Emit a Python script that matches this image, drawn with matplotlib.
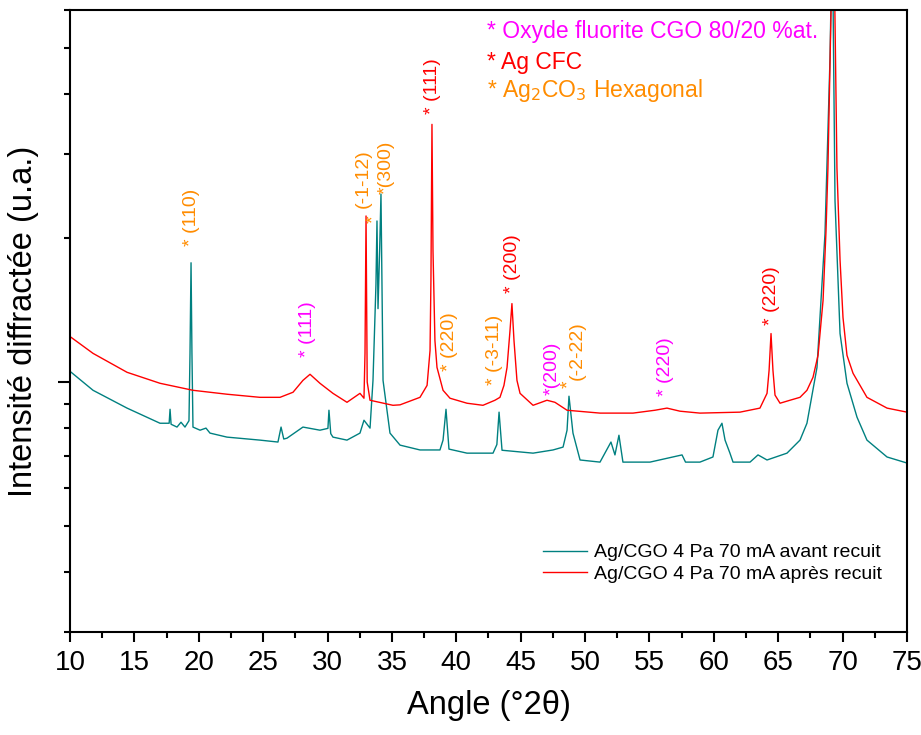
import numpy as np
import matplotlib
matplotlib.use("Agg")
import matplotlib.pyplot as plt
from matplotlib.ticker import MultipleLocator, LogLocator, NullFormatter

plt.rcParams['font.family'] = ['Liberation Sans', 'DejaVu Sans']

# donnees (angle en degres 2theta, intensite en u.a.)
ang_apres = [10.00, 11.79, 14.43, 16.99, 19.55, 22.19, 24.75, 26.31, 27.32, 28.09,
             28.64, 29.41, 30.42, 31.51, 32.52, 32.83, 32.91, 32.99, 33.08, 33.30,
             35.08, 35.63, 37.18, 37.73, 37.96, 38.03, 38.11, 38.19, 38.34, 38.50,
             38.97, 39.51, 40.83, 42.07, 43.00, 43.39, 43.70, 43.94, 44.17, 44.32,
             44.48, 44.71, 44.95, 45.96, 47.04, 47.66, 48.60, 51.16, 53.72, 55.43,
             56.36, 57.37, 58.92, 62.03, 63.58, 64.13, 64.29, 64.44, 64.59, 64.75,
             65.14, 65.91, 66.69, 67.23, 67.70, 68.09, 68.48, 68.71, 68.86, 69.10,
             69.25, 69.40, 69.56, 69.80, 70.03, 70.34, 70.81, 71.89, 73.45, 75.00]
int_apres = [1245, 1148, 1048, 994, 961, 943, 929, 929, 952, 1008,
             1038, 994, 947, 907, 947, 925, 1150, 2225, 1000, 916,
             894, 896, 929, 984, 1164, 1628, 3459, 1880, 1221, 1073,
             961, 925, 903, 894, 916, 929, 984, 1073, 1281, 1459,
             1221, 1008, 947, 894, 916, 907, 873, 861, 861, 873,
             882, 869, 861, 865, 882, 947, 1058, 1263, 1058, 939,
             903, 916, 929, 961, 1023, 1137, 1480, 2070, 2802, 5950,
             9000, 5950, 2802, 1800, 1364, 1137, 1043, 929, 882, 865]

ang_avant = [10.00, 11.79, 14.43, 16.99, 17.70, 17.77, 17.85, 18.31, 18.62, 18.93,
             19.24, 19.32, 19.40, 19.47, 19.55, 20.10, 20.56, 20.87, 22.19, 24.75,
             26.15, 26.39, 26.60, 26.85, 28.09, 28.64, 29.41, 30.03, 30.11, 30.25,
             30.42, 31.51, 32.52, 32.83, 33.30, 33.53, 33.76, 33.84, 33.92, 34.05,
             34.15, 34.31, 34.85, 35.63, 37.18, 38.73, 38.97, 39.20, 39.43, 40.83,
             42.85, 43.15, 43.32, 43.55, 45.96, 47.51, 48.29, 48.60, 48.75, 49.06,
             49.61, 51.16, 52.01, 52.32, 52.63, 52.94, 55.04, 57.53, 57.80, 58.92,
             59.93, 60.32, 60.63, 60.87, 61.25, 61.49, 62.81, 63.43, 64.13, 65.68,
             66.69, 67.23, 68.01, 68.63, 69.02, 69.20, 69.41, 69.80, 70.34, 71.12,
             71.89, 73.45, 75.00]
int_avant = [1053, 961, 882, 820, 820, 877, 816, 805, 824, 805,
             830, 1150, 1776, 1150, 805, 793, 801, 782, 767, 756,
             749, 805, 760, 763, 805, 800, 793, 800, 873, 780,
             767, 756, 782, 832, 801, 1008, 1600, 2172, 1424, 1900,
             2473, 1008, 782, 738, 721, 721, 756, 877, 724, 710,
             710, 740, 865, 720, 710, 721, 731, 793, 934, 782,
             687, 680, 749, 704, 774, 680, 680, 704, 680, 680,
             697, 793, 820, 756, 710, 680, 680, 704, 687, 710,
             756, 820, 1073, 2040, 4748, 9000, 2391, 1263, 994, 844,
             756, 697, 677]

# etiquettes des pics : angle, intensite du bas du texte, texte, couleur
pic_ang = [19.40, 28.48, 32.75, 33.61, 34.54, 38.19, 39.51, 43.00, 44.40, 47.43,
           48.75, 49.37, 56.21, 64.44]
pic_int = [1927, 1126, 2312, 2151, 2473, 3629, 1053, 984, 1538, 938,
           970, 1008, 934, 1313]
pic_txt = ['* (110)', '* (111)', '(-1-12)', '*', '*(300)', '* (111)', '* (220)',
           '* (-3-11)', '* (200)', '*(200)', '*', '(-2-22)', '* (220)', '* (220)']
orange = '#ff8c00'
pic_col = [orange, '#ff00ff', orange, orange, orange, 'red', orange,
           orange, 'red', '#ff00ff', orange, orange, '#ff00ff', 'red']

fig = plt.figure(figsize=(9.21, 7.35), dpi=100)
ax = fig.add_axes([0.0760, 0.1401, 0.9088, 0.8463])

ax.plot(ang_avant, int_avant, color='#008080', lw=1.0,
        label='Ag/CGO 4 Pa 70 mA avant recuit')
ax.plot(ang_apres, int_apres, color='red', lw=1.0,
        label='Ag/CGO 4 Pa 70 mA après recuit')

ax.set_yscale('log')
ax.set_xlim(10, 75)
ax.set_ylim(300, 6000)

for a, i, t, c in zip(pic_ang, pic_int, pic_txt, pic_col):
    ax.text(a, i, t, rotation=90, ha='center', va='bottom', color=c, fontsize=14)

ax.text(0.498, 0.965, '* Oxyde fluorite CGO 80/20 %at.', color='#ff00ff',
        fontsize=16.5, transform=ax.transAxes, va='center', ha='left')
ax.text(0.498, 0.916, '* Ag CFC', color='red',
        fontsize=16.5, transform=ax.transAxes, va='center', ha='left')
ax.text(0.498, 0.871, '* Ag$_2$CO$_3$ Hexagonal', color=orange,
        fontsize=16.5, transform=ax.transAxes, va='center', ha='left')

ax.xaxis.set_major_locator(MultipleLocator(5))
ax.xaxis.set_minor_locator(MultipleLocator(2.5))
ax.yaxis.set_major_locator(LogLocator(base=10))
ax.yaxis.set_minor_locator(LogLocator(base=10, subs=np.arange(2, 10)))
ax.yaxis.set_major_formatter(NullFormatter())
ax.yaxis.set_minor_formatter(NullFormatter())

ax.tick_params(axis='x', which='major', direction='out', length=7, width=1.5, pad=6)
ax.tick_params(axis='x', which='minor', direction='out', length=4, width=1.5)
ax.tick_params(axis='y', which='major', direction='out', length=9, width=1.5)
ax.tick_params(axis='y', which='minor', direction='out', length=4.5, width=1.5)
for lab in ax.get_xticklabels():
    lab.set_family(['Liberation Sans Narrow', 'Liberation Sans'])
    lab.set_fontsize(20)
for s in ax.spines.values():
    s.set_linewidth(1.5)

ax.set_xlabel('Angle (°2θ)', fontsize=23.5, labelpad=10)
ax.set_ylabel('Intensité diffractée (u.a.)', fontsize=23.5, labelpad=10)

ax.legend(loc='upper left', bbox_to_anchor=(0.565, 0.142), frameon=False,
          fontsize=14, borderpad=0, borderaxespad=0, handlelength=2.25,
          handletextpad=0.4, labelspacing=0.2)

fig.savefig('out.png', dpi=100)
